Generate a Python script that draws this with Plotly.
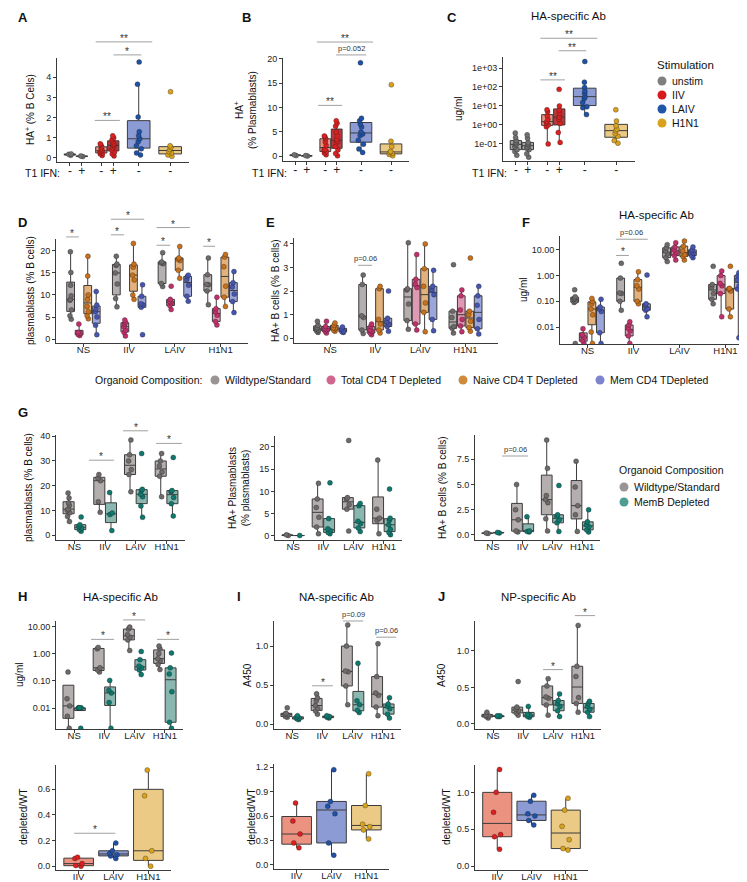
import plotly.graph_objects as go

W, H = 747, 882
FONT = "Liberation Sans, Arial, Helvetica, sans-serif"
AX = "#3a3a3a"

STIM = ["NS", "IIV", "LAIV", "H1N1"]
VACC = ["IIV", "LAIV", "H1N1"]
IFN = ["-", "+"]
STIM_LEGEND = ["unstim", "IIV", "LAIV", "H1N1"]
ORG_LEGEND = ["Wildtype/Standard", "Total CD4 T Depleted", "Naive CD4 T Depleted", "Mem CD4 TDepleted"]
MEMB_LEGEND = ["Wildtype/Standard", "MemB Depleted"]

# ---- A: HA+ (% B cells) by stimulation and T1 IFN
a_unstim_neg = [0.13, 0.18, 0.2]
a_unstim_pos = [0.07, 0.1]
a_iiv_neg = [0.12, 0.2, 0.25, 0.3, 0.33, 0.38, 0.45, 0.55, 0.65, 0.7]
a_iiv_pos = [0.1, 0.2, 0.3, 0.4, 0.5, 0.6, 0.65, 0.7, 0.8, 0.9, 1.0, 1.1]
a_laiv = [0.15, 0.25, 0.45, 0.6, 0.8, 0.95, 1.1, 1.3, 2.03, 3.65, 4.75]
a_h1n1 = [0.08, 0.15, 0.25, 0.32, 0.42, 0.52, 0.6, 3.28]

# ---- B: HA+ (% plasmablasts)
b_unstim_neg = [0.15, 0.3]
b_unstim_pos = [0.05, 0.15]
b_iiv_neg = [0.3, 0.7, 1.0, 1.3, 1.4, 2.2, 3.0, 3.6, 4.0, 4.2]
b_iiv_pos = [0.1, 0.6, 1.3, 2.0, 2.8, 3.1, 3.5, 4.2, 5.0, 6.2, 6.8, 7.3]
b_laiv = [0.8, 1.5, 2.5, 3.3, 4.3, 4.6, 5.0, 6.0, 6.6, 7.3, 7.8, 19.2]
b_h1n1 = [0.1, 0.4, 0.6, 0.8, 1.0, 2.0, 3.1, 14.7]

# ---- C: HA-specific Ab (ug/ml)
c_unstim_neg = [0.025, 0.04, 0.05, 0.07, 0.09, 0.1, 0.12, 0.15, 0.22, 0.38]
c_unstim_pos = [0.02, 0.03, 0.05, 0.06, 0.07, 0.09, 0.1, 0.12, 0.2, 0.3]
c_iiv_neg = [0.1, 0.8, 1.0, 1.3, 1.5, 2.0, 3.0, 5.0, 6.3]
c_iiv_pos = [0.12, 0.4, 1.2, 2.0, 2.6, 4.0, 6.0, 10.0, 75.0]
c_laiv = [3.5, 8, 9, 15, 25, 31, 45, 60, 95, 180, 2200]
c_h1n1 = [0.11, 0.15, 0.25, 0.35, 0.5, 0.6, 0.9, 1.6, 6.3]

# ---- D: plasmablasts (% B cells), per stimulation NS / IIV / LAIV / H1N1
d_wt = [[4.5, 5.3, 6.6, 8.8, 9.0, 9.8, 12.2, 15.1, 19.8], [7.3, 9.2, 12.5, 15.0, 16.7, 17.0, 18.8],
        [11.9, 12.6, 17.1, 17.3, 17.5, 19.6], [7.8, 10.9, 12.3, 12.4, 14.6, 18.4]]
d_total = [[0.8, 1.0, 1.3, 1.5, 3.4], [0.7, 1.5, 2.0, 2.8, 3.4, 3.8, 4.3],
           [6.7, 7.6, 8.2, 8.5, 9.0, 12.0], [3.2, 4.0, 5.4, 6.2, 6.9, 9.5]]
d_naive = [[4.6, 5.3, 6.2, 7.4, 9.0, 10.0, 14.3, 18.8], [9.0, 10.0, 13.4, 14.5, 16.3, 17.0, 21.7],
           [13.8, 15.6, 17.8, 18.1, 18.4, 21.0], [7.4, 9.5, 12.0, 16.4, 18.6, 19.2]]
d_mem = [[1.0, 3.1, 5.0, 6.2, 6.8, 7.7, 10.8], [1.0, 7.2, 7.8, 8.0, 9.7, 12.3],
         [8.6, 9.7, 12.2, 13.5, 14.2, 14.5], [6.0, 8.5, 10.2, 11.8, 12.8, 15.3]]

# ---- E: HA+ B cells (% B cells)
e_wt = [[0.25, 0.3, 0.35, 0.4, 0.45, 0.55, 0.72], [0.2, 0.35, 0.88, 0.95, 2.28, 2.68],
        [0.38, 0.75, 1.45, 2.05, 2.1, 4.05], [0.22, 0.42, 0.5, 0.88, 1.15, 3.12]]
e_total = [[0.22, 0.3, 0.37, 0.4, 0.5, 0.72], [0.15, 0.22, 0.3, 0.35, 0.5, 0.6],
           [0.35, 0.6, 2.15, 2.3, 2.5, 3.55], [0.28, 0.52, 0.8, 1.2, 1.8, 2.05]]
e_naive = [[0.3, 0.35, 0.42, 0.45, 0.55, 0.65], [0.22, 0.35, 0.6, 0.8, 2.1, 2.2],
           [0.28, 1.1, 1.5, 2.2, 2.95, 4.0], [0.3, 0.45, 0.72, 1.0, 1.15, 3.4]]
e_mem = [[0.25, 0.28, 0.3, 0.4, 0.48], [0.3, 0.5, 0.6, 0.7, 0.85, 2.0],
         [0.32, 0.8, 1.85, 2.05, 2.2, 2.88], [0.18, 0.4, 0.8, 1.4, 1.8, 2.2]]

# ---- F: HA-specific Ab (ug/ml); 0.0023 = value sitting on the axis floor
f_wt = [[0.0023, 0.09, 0.1, 0.12, 0.13, 0.15, 0.28], [0.045, 0.1, 0.2, 0.21, 0.8, 3.0],
        [3.5, 5.0, 7.0, 9.0, 12.0, 16.0], [0.08, 0.12, 0.2, 0.35, 0.45, 2.3]]
f_total = [[0.0023, 0.003, 0.004, 0.005, 0.0086], [0.0023, 0.0045, 0.007, 0.009, 0.012, 0.016],
           [4.0, 6.0, 8.0, 10.0, 13.0, 19.0], [0.025, 0.2, 0.4, 0.5, 1.0, 1.5]]
f_naive = [[0.0023, 0.0064, 0.03, 0.05, 0.08, 0.1, 0.13], [0.08, 0.1, 0.3, 0.4, 0.7, 1.4],
           [4.0, 5.5, 6.5, 9.0, 14.0, 22.0], [0.025, 0.05, 0.25, 0.3, 0.32, 2.3]]
f_mem = [[0.0023, 0.006, 0.04, 0.05, 0.06, 0.12], [0.025, 0.045, 0.05, 0.07, 0.08, 1.05],
         [5.0, 6.0, 7.5, 8.5, 10.0, 13.0], [0.0038, 0.3, 0.4, 0.7, 1.0, 1.3]]

# ---- G: memory B depletion
g_wt_pb = [[5.5, 7.5, 9.0, 10.0, 10.5, 12.0, 13.0, 15.0, 17.0], [9.2, 13.5, 22.0, 23.0, 24.5],
           [17.5, 24.5, 26.5, 30.0, 32.5, 38.5], [15.5, 23.8, 25.5, 28.0, 30.0, 33.0]]
g_memb_pb = [[1.5, 2.2, 2.8, 3.5, 4.2, 7.3], [1.8, 8.3, 8.9, 17.2],
             [7.2, 11.8, 15.5, 16.5, 18.0, 18.5, 33.0], [7.7, 12.7, 15.2, 17.5, 18.0, 31.4]]
g_wt_hapb = [[0.1, 0.25], [0.5, 2.0, 4.2, 6.4, 8.3, 11.8],
             [1.1, 6.0, 7.0, 8.3, 8.6, 21.4], [0.5, 3.5, 4.0, 6.0, 17.0]]
g_memb_hapb = [[0.1], [0.5, 0.8, 1.2, 1.6, 3.9, 11.9],
               [1.0, 1.8, 2.8, 3.3, 6.8, 7.3], [0.3, 0.8, 1.5, 2.5, 3.5, 4.0, 10.5]]
g_wt_hab = [[0.15, 0.2], [0.3, 0.4, 1.5, 2.5, 5.0],
            [0.4, 1.6, 3.2, 3.5, 3.9, 6.6, 9.4], [0.35, 2.0, 2.9, 4.75, 7.3]]
g_memb_hab = [[0.2, 0.25], [0.3, 0.35, 0.4, 1.8],
              [0.35, 1.2, 1.5, 1.8, 2.0, 4.9], [0.3, 0.5, 0.8, 1.0, 1.3, 2.5]]

# ---- H / I / J: antibody by specificity (0.0018 = value on the axis floor)
h_wt = [[0.0018, 0.005, 0.012, 0.022, 0.21], [0.21, 0.25, 0.3, 1.5, 1.7],
        [1.3, 3.2, 4.0, 5.0, 8.0, 9.5], [0.26, 0.4, 0.55, 0.65, 1.0, 1.5, 1.9]]
h_memb = [[0.0018, 0.0102, 0.0102, 0.0102, 0.0102], [0.0018, 0.016, 0.036, 0.045, 0.104],
          [0.17, 0.25, 0.3, 0.35, 0.6, 1.2], [0.0018, 0.003, 0.04, 0.18, 0.3, 1.05]]
i_wt = [[0.09, 0.1, 0.12, 0.13, 0.14, 0.21], [0.13, 0.17, 0.2, 0.24, 0.3, 0.34, 0.39],
        [0.25, 0.49, 0.67, 0.68, 1.0, 1.27], [0.11, 0.22, 0.37, 0.4, 0.61, 1.03]]
i_memb = [[0.06, 0.07, 0.08, 0.09, 0.11], [0.08, 0.09, 0.1, 0.11],
          [0.15, 0.18, 0.25, 0.3, 0.78], [0.08, 0.13, 0.2, 0.23, 0.26, 0.34]]
j_wt = [[0.08, 0.1, 0.11, 0.12, 0.16], [0.12, 0.15, 0.18, 0.2, 0.23, 0.58],
        [0.12, 0.26, 0.35, 0.37, 0.52, 0.62], [0.16, 0.28, 0.36, 0.65, 0.79, 1.35]]
j_memb = [[0.1, 0.1, 0.11, 0.11], [0.09, 0.1, 0.12, 0.13, 0.24],
          [0.1, 0.18, 0.24, 0.28, 0.32, 0.41], [0.1, 0.16, 0.2, 0.24, 0.28, 0.31]]

# ---- depleted / WT ratios (IIV, LAIV, H1N1)
h_ratio = [[0.0, 0.005, 0.02, 0.06, 0.07], [0.06, 0.08, 0.09, 0.1, 0.12, 0.18], [0.0, 0.06, 0.12, 0.55, 0.75]]
i_ratio = [[0.21, 0.27, 0.38, 0.54, 0.76], [0.12, 0.27, 0.63, 0.72, 0.78, 1.17], [0.32, 0.43, 0.47, 0.5, 0.73, 1.12]]
j_ratio = [[0.23, 0.4, 0.43, 0.73, 1.0, 1.31], [0.56, 0.62, 0.68, 0.71, 0.88, 0.96], [0.22, 0.24, 0.36, 0.54, 0.76, 0.92]]

# colours: (box fill, point colour)
GREY = ("rgba(150,146,146,0.8)", "#707070")
IIV_NEG = ("rgba(232,128,106,0.85)", "#dd1f1f")
IIV_POS = ("rgba(178,34,40,0.9)", "#dd1f1f")
LAIV = ("rgba(120,138,205,0.85)", "#1f52a6")
H1N1 = ("rgba(233,196,120,0.9)", "#d9a21c")
WT = ("rgba(168,160,160,0.85)", "#6e6a6a")
TOTAL = ("rgba(217,135,165,0.85)", "#c2306b")
NAIVE = ("rgba(222,163,100,0.85)", "#c8701a")
MEM = ("rgba(140,150,212,0.85)", "#4655b0")
MEMB = ("rgba(118,170,162,0.85)", "#0d786d")
RATIO = [IIV_NEG, LAIV, H1N1]
STIM_KEYS = ["#7f7f7f", "#d7191c", "#1f56a8", "#d9a21c"]
ORG_KEYS = ["#9a9494", "#d0668e", "#d08a3c", "#7b84cc"]
MEMB_KEYS = ["#9a9494", "#4e9c92"]

fig = go.Figure()


def ref(n, a):
    return a if n == 1 else f"{a}{n}"


def axis(n, px, xr, yr, xt, xl, ylog=False, yt=None, yl=None, yfmt=None, xfs=9.5):
    l, r, t, b = px
    common = dict(showline=True, linecolor=AX, linewidth=1, ticks="outside", ticklen=3, tickwidth=1,
                  tickcolor=AX, showgrid=False, zeroline=False, fixedrange=True, tickangle=0)
    xa = dict(domain=[l / W, r / W], anchor=ref(n, "y"), range=xr, type="linear", tickmode="array",
              tickvals=xt, ticktext=xl, ticklabelstandoff=-5, tickfont=dict(size=xfs, color="#222"), **common)
    ya = dict(domain=[1 - b / H, 1 - t / H], anchor=ref(n, "x"), range=yr, tickfont=dict(size=9, color="#222"),
              type="log" if ylog else "linear", **common)
    if yt is not None:
        ya.update(tickmode="array", tickvals=yt)
    if yl is not None:
        ya["ticktext"] = yl
    if yfmt:
        ya["tickformat"] = yfmt
    fig.update_layout(**{("xaxis" if n == 1 else f"xaxis{n}"): xa, ("yaxis" if n == 1 else f"yaxis{n}"): ya})


def box(n, pos, vals, style, width):
    fill, pt = style
    fig.add_trace(go.Box(
        x=[pos] * len(vals), y=vals, xaxis=ref(n, "x"), yaxis=ref(n, "y"), width=width,
        boxpoints="all", jitter=0.3, pointpos=0, whiskerwidth=0,
        fillcolor=fill, line=dict(color="#3c3c3c", width=1),
        marker=dict(color=pt, size=5, line=dict(color="rgba(30,30,30,0.55)", width=0.6)),
        showlegend=False, hoverinfo="y"))


def grouped(n, series, offsets, width):
    for (lists, style), off in zip(series, offsets):
        for i, vals in enumerate(lists):
            box(n, i + 1 + off, vals, style, width)


def bracket(n, x0, x1, lev, label):
    yref = ("y" if n == 1 else f"y{n}") + " domain"
    fig.add_shape(type="line", xref=ref(n, "x"), yref=yref, x0=x0, x1=x1, y0=lev, y1=lev,
                  line=dict(color="#a0a0a0", width=1))
    star = label.startswith("*")
    fig.add_annotation(xref=ref(n, "x"), yref=yref, x=(x0 + x1) / 2, y=lev, text=label, showarrow=False,
                       yanchor="bottom", yshift=-4 if star else 0,
                       font=dict(size=10 if star else 7.5, color="#333"))


def text(x, y, s, size=10, angle=0, anchor="center", bold=False):
    fig.add_annotation(xref="paper", yref="paper", x=x / W, y=1 - y / H, text=f"<b>{s}</b>" if bold else s,
                       showarrow=False, textangle=angle, xanchor=anchor, yanchor="middle",
                       font=dict(size=size, color="#111"))


def key(x, y, colour, label, size=10.5):
    fig.add_shape(type="circle", xref="paper", yref="paper", xsizemode="pixel", ysizemode="pixel",
                  xanchor=x / W, yanchor=1 - y / H, x0=-4.5, x1=4.5, y0=-4.5, y1=4.5,
                  fillcolor=colour, line=dict(width=0))
    text(x + 8, y, label, size=size, anchor="left")


D2 = 0.19
IFN_POS = [1 - D2, 1 + D2, 2 - D2, 2 + D2, 3, 4]
IFN_TXT = IFN + IFN + ["-", "-"]

# ---- A, B, C
abc = [
    (1, (49, 181, 50, 154), [-0.2, 4.95], False, [0, 1, 2, 3, 4], None,
     [a_unstim_neg, a_unstim_pos, a_iiv_neg, a_iiv_pos, a_laiv, a_h1n1]),
    (2, (275, 401, 50, 153), [-0.96, 20.2], False, [0, 5, 10, 15, 20], None,
     [b_unstim_neg, b_unstim_pos, b_iiv_neg, b_iiv_pos, b_laiv, b_h1n1]),
    (3, (495, 627, 49, 153), [-1.9, 3.58], True, [0.1, 1, 10, 100, 1000],
     ["1e-01", "1e+00", "1e+01", "1e+02", "1e+03"],
     [c_unstim_neg, c_unstim_pos, c_iiv_neg, c_iiv_pos, c_laiv, c_h1n1]),
]
abc_styles = [GREY, GREY, IIV_NEG, IIV_POS, LAIV, H1N1]
for n, px, yr, ylog, yt, yl, sets in abc:
    axis(n, px, [0.4, 4.6], yr, IFN_POS, IFN_TXT, ylog=ylog, yt=yt, yl=yl, xfs=12)
    for pos, vals, st in zip(IFN_POS, sets, abc_styles):
        box(n, pos, vals, st, 0.36 if pos % 1 else 0.72)

for n, x0, x1, lev, lab in [
    (1, 1.6, 2.4, 0.40, "**"), (1, 2.2, 3.08, 1.03, "*"), (1, 1.63, 3.43, 1.155, "**"),
    (2, 1.57, 2.37, 0.54, "**"), (2, 2.17, 3.17, 1.03, "p=0.052"), (2, 1.53, 3.4, 1.155, "**"),
    (3, 1.59, 2.37, 0.78, "**"), (3, 2.17, 3.05, 1.06, "**"), (3, 1.59, 3.4, 1.18, "**"),
]:
    bracket(n, x0, x1, lev, lab)

# ---- D, E, F
O4 = [-0.28, -0.094, 0.094, 0.28]
axis(4, (48, 240, 231, 335), [0.4, 4.6], [-0.9, 22.7], [1, 2, 3, 4], STIM, yt=[0, 5, 10, 15, 20])
grouped(4, [(d_wt, WT), (d_total, TOTAL), (d_naive, NAIVE), (d_mem, MEM)], O4, 0.17)
axis(5, (286, 490, 230, 335), [0.2, 4.72], [-0.2, 4.25], [1, 2, 3, 4], STIM, yt=[0, 1, 2, 3, 4])
grouped(5, [(e_wt, WT), (e_total, TOTAL), (e_naive, NAIVE), (e_mem, MEM)], O4, 0.17)
axis(6, (552, 745, 228, 336), [0.4, 4.6], [-2.66, 1.54], [1, 2, 3, 4], STIM, ylog=True,
     yt=[0.01, 0.1, 1, 10], yl=["0.01", "0.10", "1.00", "10.00"])
grouped(6, [(f_wt, WT), (f_total, TOTAL), (f_naive, NAIVE), (f_mem, MEM)], O4, 0.17)

for n, x0, x1, lev, lab in [
    (4, 0.62, 0.9, 1.02, "*"), (4, 1.6, 1.89, 1.04, "*"), (4, 1.6, 2.33, 1.19, "*"),
    (4, 2.6, 2.9, 0.94, "*"), (4, 2.6, 3.33, 1.11, "*"), (4, 3.62, 3.88, 0.93, "*"),
    (5, 1.62, 1.93, 0.74, "p=0.06"),
    (6, 1.62, 1.9, 0.82, "*"), (6, 1.62, 2.31, 0.97, "p=0.06"),
]:
    bracket(n, x0, x1, lev, lab)

# ---- G
O2 = [-D2, D2]
axis(7, (48, 177, 427, 532), [0.4, 4.6], [-2, 40.5], [1, 2, 3, 4], STIM, yt=[0, 10, 20, 30, 40])
grouped(7, [(g_wt_pb, WT), (g_memb_pb, MEMB)], O2, 0.36)
axis(8, (267, 394, 428, 532), [0.4, 4.6], [-0.9, 22.4], [1, 2, 3, 4], STIM, yt=[0, 5, 10, 15, 20])
grouped(8, [(g_wt_hapb, WT), (g_memb_hapb, MEMB)], O2, 0.36)
axis(9, (467, 592, 427, 532), [0.4, 4.6], [-0.5, 9.9], [1, 2, 3, 4], STIM, yt=[0, 2.5, 5, 7.5], yfmt=".1f")
grouped(9, [(g_wt_hab, WT), (g_memb_hab, MEMB)], O2, 0.36)

# ---- H, I, J
axis(10, (48, 175, 613, 721), [0.4, 4.6], [-2.77, 1.2], [1, 2, 3, 4], STIM, ylog=True,
     yt=[0.01, 0.1, 1, 10], yl=["0.01", "0.10", "1.00", "10.00"])
grouped(10, [(h_wt, WT), (h_memb, MEMB)], O2, 0.36)
axis(11, (266, 393, 613, 721), [0.4, 4.6], [-0.06, 1.32], [1, 2, 3, 4], STIM, yt=[0, 0.5, 1.0], yfmt=".1f")
grouped(11, [(i_wt, WT), (i_memb, MEMB)], O2, 0.36)
axis(12, (467, 593, 613, 721), [0.4, 4.6], [-0.07, 1.41], [1, 2, 3, 4], STIM, yt=[0, 0.5, 1.0], yfmt=".1f")
grouped(12, [(j_wt, WT), (j_memb, MEMB)], O2, 0.36)

for n, x0, x1, lev, lab in [
    (7, 1.47, 2.29, 0.76, "*"), (7, 2.58, 3.4, 1.04, "*"), (7, 3.66, 4.5, 0.92, "*"),
    (9, 1.31, 2.18, 0.80, "p=0.06"),
    (10, 1.56, 2.32, 0.83, "*"), (10, 2.62, 3.35, 1.01, "*"), (10, 3.74, 4.47, 0.83, "*"),
    (11, 1.66, 2.35, 0.40, "*"), (11, 2.68, 3.35, 1.0, "p=0.09"), (11, 3.78, 4.44, 0.85, "p=0.06"),
    (12, 2.67, 3.33, 0.55, "*"), (12, 3.73, 4.4, 1.05, "*"),
]:
    bracket(n, x0, x1, lev, lab)

# ---- ratio row
axis(13, (48, 163, 757, 862), [0.35, 3.65], [-0.03, 0.79], [1, 2, 3], VACC, yt=[0, 0.2, 0.4, 0.6], yfmt=".1f")
axis(14, (266, 381, 756, 861), [0.35, 3.65], [-0.05, 1.24], [1, 2, 3], VACC, yt=[0, 0.3, 0.6, 0.9, 1.2], yfmt=".1f")
axis(15, (467, 580, 757, 862), [0.35, 3.65], [-0.05, 1.37], [1, 2, 3], VACC, yt=[0, 0.5, 1.0], yfmt=".1f")
for n, lists in [(13, h_ratio), (14, i_ratio), (15, j_ratio)]:
    for i, vals in enumerate(lists):
        box(n, i + 1, vals, RATIO[i], 0.85)
bracket(13, 0.87, 2.05, 0.35, "*")

# ---- legends
text(647, 57, "Stimulation", size=11.5, anchor="left")
for i, (lab, col) in enumerate(zip(STIM_LEGEND, STIM_KEYS)):
    key(654, 73 + 14 * i, col, lab)
text(85, 372, "Organoid Composition:", size=10.5, anchor="left")
for x, lab, col in zip([207, 323, 455, 592], ORG_LEGEND, ORG_KEYS):
    key(x, 372, col, lab)
text(609, 462, "Organoid Composition", size=10.5, anchor="left")
for i, (lab, col) in enumerate(zip(MEMB_LEGEND, MEMB_KEYS)):
    key(616, 479 + 15 * i, col, lab)

# ---- panel letters, titles, axis titles
for s, x, y in [("A", 8, 10), ("B", 232, 10), ("C", 437, 10), ("D", 8, 214), ("E", 256, 214), ("F", 512, 214),
                ("G", 8, 405), ("H", 8, 588), ("I", 227, 588), ("J", 428, 588)]:
    text(x, y, s, size=13, bold=True, anchor="left")
for s, x, y in [("HA-specific Ab", 560, 8), ("HA-specific Ab", 648, 207), ("HA-specific Ab", 112, 589),
                ("NA-specific Ab", 328, 589), ("NP-specific Ab", 530, 589)]:
    text(x, y, s, size=11.5)
for x in [54, 281, 501]:
    text(x, 165, "T1 IFN:", size=10.5, anchor="right")
for s, x, y in [("HA<sup>+</sup> (% B Cells)", 22, 102), ("HA<sup>+</sup><br>(% Plasmablasts)", 237, 102),
                ("ug/ml", 451, 101), ("plasmablasts (% B cells)", 22, 283), ("HA+ B cells (% B cells)", 267, 283),
                ("ug/ml", 515, 282), ("plasmablasts (% B cells)", 20, 480),
                ("HA+ Plasmablasts<br>(% plasmablasts)", 231, 480), ("HA+ B cells (% B cells)", 434, 480),
                ("ug/ml", 11, 667), ("A450", 239, 667), ("A450", 433, 667),
                ("depleted/WT", 15, 809), ("depleted/WT", 243, 809), ("depleted/WT", 438, 809)]:
    text(x, y, s, size=10, angle=-90)

fig.update_layout(
    width=W, height=H, autosize=False, margin=dict(l=0, r=0, t=0, b=0, autoexpand=False),
    paper_bgcolor="white", plot_bgcolor="white", boxmode="overlay", showlegend=False,
    font=dict(family=FONT, size=10, color="#222"),
)

fig.write_html("out.html")
